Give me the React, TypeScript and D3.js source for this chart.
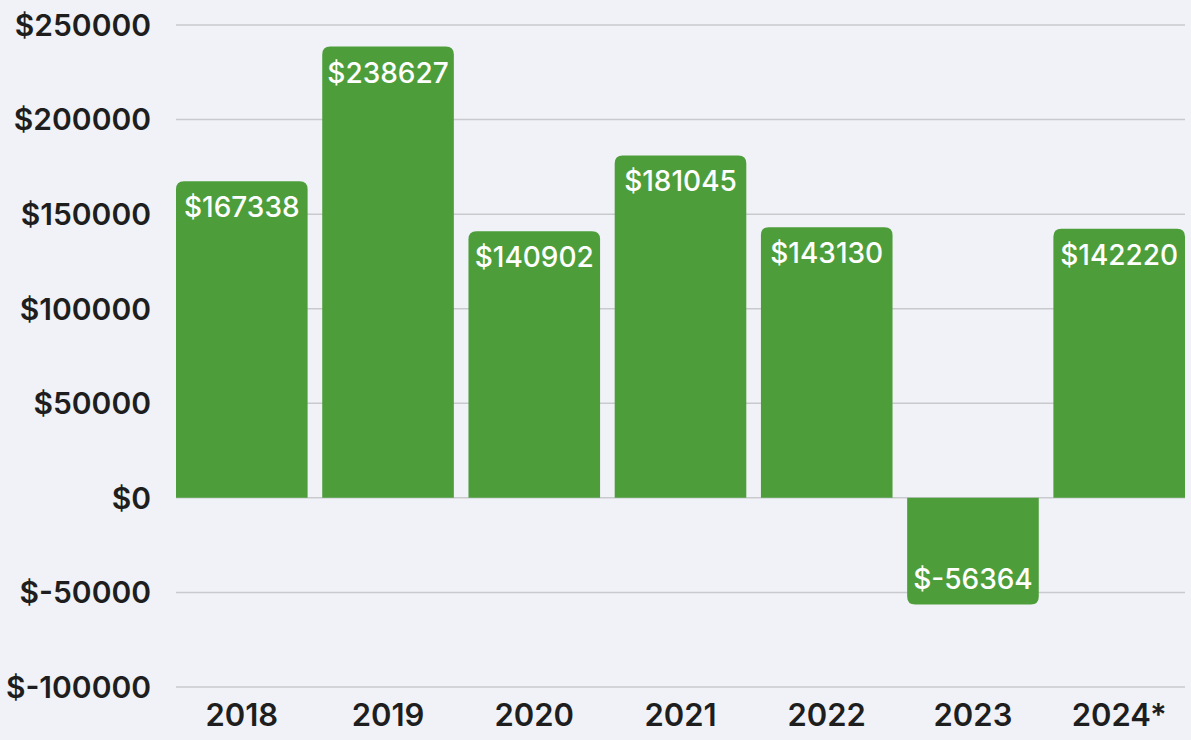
import React from "react";
import * as d3 from "d3";

const years = ["2018", "2019", "2020", "2021", "2022", "2023", "2024*"];
const profits = [167338, 238627, 140902, 181045, 143130, -56364, 142220];
const yTicks = [250000, 200000, 150000, 100000, 50000, 0, -50000, -100000];

const W = 1191;
const H = 740;
const FONT = "Inter, 'Open Sans', sans-serif";
const GREEN = "#4d9e3b";
const BG = "#f0f2f7";

function barPath(x: number, w: number, y0: number, y1: number, r: number) {
  if (y1 < y0) {
    const top = y1;
    const rr = Math.min(r, (y0 - top) / 2);
    return `M${x},${y0}V${top + rr}Q${x},${top} ${x + rr},${top}H${x + w - rr}Q${x + w},${top} ${x + w},${top + rr}V${y0}Z`;
  } else {
    const bot = y1;
    const rr = Math.min(r, (bot - y0) / 2);
    return `M${x},${y0}V${bot - rr}Q${x},${bot} ${x + rr},${bot}H${x + w - rr}Q${x + w},${bot} ${x + w},${bot - rr}V${y0}Z`;
  }
}

export default function App() {
  const x = d3.scaleBand<string>().domain(years).range([176, 1185]).paddingInner(0.1).paddingOuter(0);
  const y = d3.scaleLinear().domain([-100000, 250000]).range([687, 25]);
  const fmt = (v: number) => `$${v}`;

  return (
    <svg width={W} height={H} style={{ position: "fixed", left: 0, top: 0 }} xmlns="http://www.w3.org/2000/svg">
      <rect x={0} y={0} width={W} height={H} fill={BG} />
      {yTicks.map((t) => (
        <g key={t}>
          <line x1={176} x2={1185} y1={y(t)} y2={y(t)} stroke="#c9cace" strokeWidth={1.5} />
          <text
            x={151}
            y={y(t)}
            dy="0.36em"
            textAnchor="end"
            fontFamily={FONT}
            fontWeight={600}
            fontSize={30}
            fill="#1e1e1e"
          >
            {fmt(t)}
          </text>
        </g>
      ))}
      {profits.map((v, i) => {
        const bx = x(years[i])!;
        const bw = x.bandwidth();
        const y0 = y(0);
        const y1 = y(v);
        return (
          <g key={years[i]}>
            <path d={barPath(bx, bw, y0, y1, 8)} fill={GREEN} />
            <text
              x={bx + bw / 2}
              y={v >= 0 ? y1 + 36 : y1 - 15}
              textAnchor="middle"
              fontFamily={FONT}
              fontWeight={500}
              fontSize={28}
              fill="#ffffff"
            >
              {fmt(v)}
            </text>
          </g>
        );
      })}
      {years.map((yr) => (
        <text
          key={yr}
          x={x(yr)! + x.bandwidth() / 2}
          y={726}
          textAnchor="middle"
          fontFamily={FONT}
          fontWeight={600}
          fontSize={31}
          fill="#1e1e1e"
        >
          {yr}
        </text>
      ))}
    </svg>
  );
}
